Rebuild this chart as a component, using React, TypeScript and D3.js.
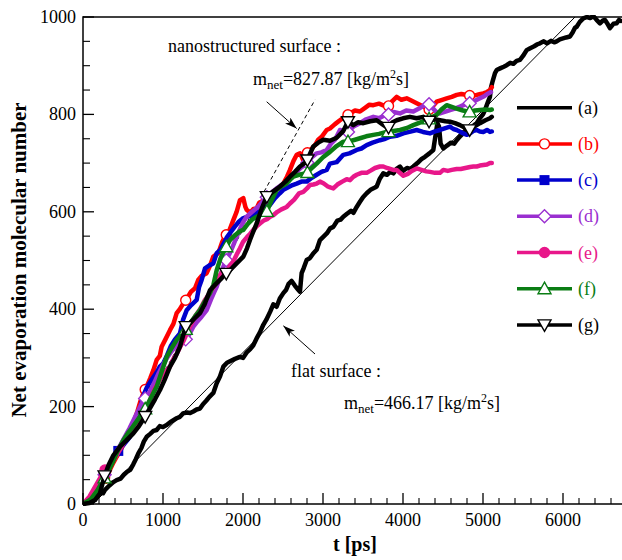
import React from 'react';
import * as d3 from 'd3';

type P = [number, number];

const seriesA: P[] = [[0,0],[60,4],[120,12],[180,18],[212,25],[250,22],[275,29],[330,38],[380,45],[420,49],[470,52],[510,60],[550,66],[590,70],[630,82],[660,92],[692,104],[730,115],[760,128],[796,138],[840,144],[880,150],[920,152],[960,160],[1000,158],[1046,162],[1090,168],[1130,172],[1170,176],[1212,179],[1250,186],[1300,188],[1340,187],[1379,190],[1420,194],[1462,196],[1500,205],[1540,212],[1580,220],[1629,228],[1671,248],[1712,262],[1754,282],[1800,290],[1850,294],[1900,298],[1962,302],[2000,300],[2050,312],[2090,318],[2129,326],[2170,340],[2210,352],[2254,368],[2290,378],[2340,395],[2379,410],[2420,405],[2460,422],[2504,433],[2540,440],[2570,452],[2608,458],[2650,448],[2690,440],[2712,436],[2733,474],[2760,485],[2796,501],[2837,505],[2880,515],[2921,522],[2962,542],[3000,548],[3050,556],[3090,566],[3129,569],[3180,582],[3220,584],[3254,590],[3300,596],[3350,602],[3380,598],[3421,610],[3460,620],[3500,630],[3546,638],[3600,646],[3650,650],[3671,652],[3710,668],[3754,679],[3800,676],[3840,682],[3879,679],[3920,688],[3962,693],[4000,684],[4050,690],[4090,688],[4129,693],[4180,700],[4230,708],[4275,713],[4330,720],[4379,727],[4400,750],[4430,782],[4450,775],[4470,740],[4504,730],[4550,736],[4600,742],[4640,740],[4671,747],[4720,756],[4760,762],[4796,768],[4850,772],[4890,778],[4921,782],[4960,792],[5000,800],[5025,809],[5060,825],[5087,836],[5100,855],[5120,868],[5150,885],[5171,891],[5220,895],[5260,898],[5296,901],[5340,906],[5380,904],[5420,910],[5462,912],[5500,920],[5546,932],[5590,936],[5640,940],[5680,944],[5712,946],[5760,950],[5800,946],[5850,951],[5890,948],[5921,950],[5960,954],[6000,956],[6040,958],[6087,960],[6120,968],[6150,978],[6171,980],[6210,990],[6254,997],[6300,1000],[6340,998],[6379,1002],[6420,994],[6462,987],[6500,993],[6525,994],[6560,985],[6587,977],[6630,986],[6671,987],[6700,994],[6720,992]];

const seriesB: P[] = [[0,0],[80,10],[150,25],[212,49],[260,58],[290,46],[330,68],[380,85],[421,97],[470,110],[520,128],[570,145],[629,166],[680,190],[720,212],[760,230],[796,241],[840,258],[880,275],[921,296],[960,304],[983,323],[1030,338],[1087,357],[1130,370],[1171,392],[1210,400],[1254,412],[1300,422],[1350,436],[1400,443],[1440,460],[1480,468],[1546,474],[1590,490],[1629,508],[1691,515],[1740,538],[1775,549],[1830,562],[1879,583],[1920,600],[1962,624],[2004,628],[2030,610],[2046,604],[2090,598],[2130,606],[2171,607],[2200,618],[2233,621],[2290,628],[2358,634],[2420,645],[2470,650],[2504,658],[2550,672],[2587,686],[2630,704],[2671,717],[2712,720],[2754,706],[2796,720],[2850,728],[2900,737],[2940,748],[2983,754],[3046,768],[3087,771],[3150,780],[3212,788],[3270,795],[3337,802],[3400,808],[3462,806],[3530,814],[3580,820],[3629,819],[3700,822],[3760,818],[3817,817],[3870,828],[3921,836],[3980,830],[4046,833],[4110,828],[4171,823],[4254,816],[4300,812],[4337,809],[4380,818],[4421,826],[4490,830],[4546,833],[4610,836],[4671,840],[4730,842],[4796,840],[4860,838],[4921,840],[4970,842],[5004,843],[5050,846],[5087,850],[5110,856]];

const seriesC: P[] = [[0,0],[100,8],[170,20],[230,42],[280,58],[337,77],[390,98],[441,109],[500,120],[550,130],[587,138],[630,155],[671,172],[720,200],[760,225],[800,240],[858,255],[920,270],[960,282],[1004,289],[1050,305],[1100,325],[1150,338],[1212,350],[1250,378],[1296,398],[1350,408],[1421,419],[1450,445],[1483,460],[1525,484],[1580,490],[1629,494],[1671,515],[1712,521],[1760,535],[1800,548],[1837,556],[1900,570],[1950,580],[2004,587],[2060,590],[2110,592],[2150,593],[2200,600],[2260,608],[2337,614],[2400,628],[2460,638],[2504,645],[2560,650],[2620,655],[2671,658],[2730,662],[2796,662],[2860,670],[2921,676],[2980,682],[3046,686],[3087,699],[3171,702],[3254,717],[3330,720],[3421,727],[3480,730],[3546,737],[3620,742],[3712,747],[3780,750],[3837,754],[3920,756],[4004,761],[4080,764],[4171,768],[4250,764],[4337,761],[4400,765],[4462,768],[4530,772],[4587,775],[4630,770],[4671,768],[4720,764],[4754,761],[4800,758],[4837,761],[4880,766],[4921,768],[4960,765],[5004,764],[5050,768],[5087,764],[5110,765]];

const seriesD: P[] = [[0,0],[90,12],[160,30],[230,50],[290,65],[350,85],[410,105],[470,122],[530,140],[580,155],[640,175],[700,195],[750,212],[795,220],[850,235],[900,252],[950,270],[1000,285],[1050,300],[1100,312],[1150,322],[1200,330],[1250,336],[1300,339],[1340,352],[1379,364],[1430,375],[1480,384],[1546,398],[1600,420],[1640,435],[1671,446],[1720,470],[1760,490],[1805,505],[1850,520],[1900,540],[1950,560],[2000,578],[2046,590],[2100,598],[2150,605],[2200,612],[2250,622],[2310,632],[2360,640],[2420,648],[2480,655],[2540,662],[2600,670],[2660,680],[2720,690],[2796,699],[2860,712],[2921,720],[2980,722],[3046,727],[3100,740],[3150,748],[3212,768],[3260,766],[3312,764],[3380,775],[3462,782],[3540,790],[3629,795],[3700,792],[3760,797],[3812,799],[3880,805],[3962,802],[4040,808],[4129,806],[4200,812],[4260,818],[4312,823],[4360,815],[4410,806],[4462,802],[4520,805],[4587,809],[4650,812],[4712,816],[4770,820],[4837,823],[4900,828],[4962,833],[5020,838],[5066,843],[5100,846]];

const seriesE: P[] = [[0,0],[80,15],[150,35],[220,55],[275,70],[330,78],[390,92],[450,108],[510,125],[570,140],[640,158],[712,172],[770,190],[830,210],[890,235],[950,252],[1010,268],[1087,282],[1130,298],[1171,308],[1212,322],[1260,336],[1296,350],[1350,368],[1400,385],[1462,400],[1520,418],[1580,432],[1629,445],[1680,460],[1720,472],[1760,480],[1796,476],[1840,490],[1879,498],[1920,512],[1962,525],[2000,538],[2050,548],[2090,555],[2129,563],[2170,570],[2212,576],[2260,582],[2300,585],[2340,590],[2379,593],[2430,600],[2480,605],[2546,610],[2587,617],[2640,625],[2700,638],[2754,641],[2800,648],[2837,655],[2880,656],[2921,658],[2962,662],[3010,658],[3060,652],[3090,650],[3129,648],[3180,656],[3240,662],[3296,667],[3337,665],[3380,672],[3421,676],[3480,680],[3546,680],[3600,685],[3650,690],[3712,693],[3754,693],[3800,690],[3879,686],[3921,686],[3960,680],[4004,674],[4060,678],[4110,684],[4171,689],[4230,686],[4290,683],[4337,682],[4400,680],[4462,680],[4504,686],[4560,684],[4610,686],[4671,688],[4720,688],[4780,690],[4837,692],[4880,693],[4921,693],[4960,695],[5004,696],[5050,697],[5087,700],[5110,700]];

const seriesF: P[] = [[0,0],[100,10],[180,28],[250,48],[310,65],[370,85],[430,108],[504,131],[560,145],[620,158],[680,172],[740,186],[783,197],[840,215],[880,228],[921,241],[980,270],[1046,302],[1100,318],[1171,337],[1250,352],[1296,361],[1337,371],[1400,385],[1462,398],[1520,415],[1587,433],[1630,450],[1671,480],[1720,505],[1780,525],[1837,542],[1900,552],[1960,560],[2004,563],[2060,575],[2120,585],[2171,590],[2230,595],[2296,600],[2360,625],[2421,645],[2480,652],[2546,658],[2600,668],[2629,672],[2700,676],[2760,678],[2796,679],[2860,690],[2921,699],[3000,712],[3087,723],[3170,735],[3254,744],[3312,744],[3400,748],[3462,751],[3540,755],[3629,758],[3700,760],[3796,764],[3880,766],[3962,768],[4050,772],[4129,778],[4210,783],[4296,788],[4360,794],[4421,799],[4480,810],[4546,819],[4600,816],[4671,812],[4750,808],[4837,805],[4900,808],[4962,809],[5030,810],[5087,809],[5110,810]];

const seriesG: P[] = [[0,0],[80,2],[150,8],[212,22],[266,56],[320,80],[380,100],[462,118],[540,130],[629,145],[700,160],[775,179],[830,195],[900,215],[962,234],[1020,255],[1087,282],[1150,300],[1212,323],[1283,364],[1340,372],[1400,382],[1462,392],[1520,410],[1587,439],[1650,450],[1712,460],[1780,472],[1837,480],[1920,494],[2004,508],[2050,525],[2087,542],[2130,560],[2171,576],[2230,605],[2296,631],[2380,642],[2462,652],[2530,662],[2587,672],[2650,682],[2712,693],[2796,703],[2840,720],[2879,734],[2940,742],[3004,748],[3087,746],[3171,752],[3250,765],[3312,785],[3379,778],[3440,784],[3504,782],[3590,786],[3671,788],[3740,780],[3812,772],[3870,784],[3921,788],[4000,792],[4087,795],[4170,792],[4254,795],[4312,785],[4390,790],[4462,788],[4530,786],[4587,785],[4650,782],[4712,778],[4780,772],[4837,768],[4900,776],[4962,782],[5030,788],[5087,792],[5110,795]];

const markTimes = [270, 777, 1284, 1791, 2298, 2805, 3312, 3819, 4326, 4833];
const markTimesC = [441, 2150];
const markTimesE = [275];

const xTicks = [0, 1000, 2000, 3000, 4000, 5000, 6000];
const yTicks = [0, 200, 400, 600, 800, 1000];
const legendLabels = ['(a)', '(b)', '(c)', '(d)', '(e)', '(f)', '(g)'];
const colors = ['#000000', '#ff0000', '#0000cc', '#9a2fd0', '#e8178a', '#0a7d14', '#000000'];
const markerTypes = ['none', 'circleOpen', 'squareFilled', 'diamondOpen', 'circleFilled', 'triUpOpen', 'triDownOpen'];

const nanoFit: P[] = [[100, 0], [2900, 830]];
const flatFit: P[] = [[126, 0], [6150, 1000]];
const nanoArrow: P[] = [[2296, 826], [2671, 771]];
const flatArrow: P[] = [[2900, 308], [2504, 366]];

const FONT = '"Liberation Serif", "Times New Roman", Times, serif';

function Marker({ type, cx, cy, color }: { type: string; cx: number; cy: number; color: string }) {
  const sw = 1.4;
  switch (type) {
    case 'circleOpen':
      return <circle cx={cx} cy={cy} r={5} fill="#fff" stroke={color} strokeWidth={sw} />;
    case 'circleFilled':
      return <circle cx={cx} cy={cy} r={5} fill={color} stroke={color} strokeWidth={sw} />;
    case 'squareFilled':
      return <rect x={cx - 5} y={cy - 5} width={10} height={10} fill={color} />;
    case 'diamondOpen':
      return <polygon points={`${cx},${cy - 6.5} ${cx + 6.5},${cy} ${cx},${cy + 6.5} ${cx - 6.5},${cy}`} fill="#fff" stroke={color} strokeWidth={sw} />;
    case 'triUpOpen':
      return <polygon points={`${cx},${cy - 6.5} ${cx + 6.5},${cy + 5} ${cx - 6.5},${cy + 5}`} fill="#fff" stroke={color} strokeWidth={sw} />;
    case 'triDownOpen':
      return <polygon points={`${cx},${cy + 6.5} ${cx + 6.5},${cy - 5} ${cx - 6.5},${cy - 5}`} fill="#fff" stroke={color} strokeWidth={sw} />;
    default:
      return null;
  }
}

function interp(s: P[], t: number): number {
  const i = d3.bisector((d: P) => d[0]).left(s, t);
  if (i <= 0) return s[0][1];
  if (i >= s.length) return s[s.length - 1][1];
  const a = s[i - 1], b = s[i];
  return a[1] + ((t - a[0]) / (b[0] - a[0])) * (b[1] - a[1]);
}

export default function App() {
  const W = 622, H = 560;
  const x = d3.scaleLinear().domain([0, 6725]).range([83, 621]);
  const y = d3.scaleLinear().domain([0, 1000]).range([504, 17]);
  const line = d3.line<P>().x(d => x(d[0])).y(d => y(d[1]));
  const all = [seriesA, seriesB, seriesC, seriesD, seriesE, seriesF, seriesG];
  const marks = [[], markTimes, markTimesC, markTimes, markTimesE, markTimes, markTimes];

  const xMinor = d3.range(0, 6725, 200).filter(v => v % 1000 !== 0);
  const yMinor = d3.range(0, 1000, 50).filter(v => v % 200 !== 0);

  const legX1 = 517, legX2 = 572, legY0 = 107.7, legDy = 36.2;

  return (
    <div style={{ position: 'absolute', left: 0, top: 0 }}>
      <svg width={W} height={H} style={{ display: 'block', background: '#fff' }} fontFamily={FONT}>
        <defs>
          <clipPath id="plot">
            <rect x={83} y={15} width={540} height={491} />
          </clipPath>
          <marker id="arr" viewBox="0 0 12 8" refX={12} refY={4} markerWidth={12} markerHeight={8} markerUnits="userSpaceOnUse" orient="auto">
            <path d="M0,0 L12,4 L0,8 L3,4 Z" fill="#000" />
          </marker>
        </defs>

        <path d={line(flatFit) || ''} stroke="#000" strokeWidth={1} fill="none" />
        <path d={line(nanoFit) || ''} stroke="#000" strokeWidth={1} fill="none" strokeDasharray="4,3" />

        <g clipPath="url(#plot)">
          {all.map((s, i) => (
            <g key={i}>
              <path d={line(s) || ''} stroke={colors[i]} strokeWidth={4.5} fill="none" strokeLinejoin="round" strokeLinecap="round" />
              {marks[i].map((t: number, k: number) => (
                <Marker key={k} type={markerTypes[i]} cx={x(t)} cy={y(interp(s, t))} color={colors[i]} />
              ))}
            </g>
          ))}
        </g>

        <line x1={x(nanoArrow[0][0])} y1={y(nanoArrow[0][1])} x2={x(nanoArrow[1][0])} y2={y(nanoArrow[1][1])} stroke="#000" strokeWidth={1} markerEnd="url(#arr)" />
        <line x1={x(flatArrow[0][0])} y1={y(flatArrow[0][1])} x2={x(flatArrow[1][0])} y2={y(flatArrow[1][1])} stroke="#000" strokeWidth={1} markerEnd="url(#arr)" />

        <line x1={83} y1={17} x2={622} y2={17} stroke="#000" strokeWidth={1.5} />
        <line x1={83} y1={16.25} x2={83} y2={504.75} stroke="#000" strokeWidth={1.5} />
        <line x1={82.25} y1={504} x2={622} y2={504} stroke="#000" strokeWidth={1.5} />

        {xTicks.map(v => (
          <g key={'xt' + v}>
            <line x1={x(v)} x2={x(v)} y1={504} y2={493} stroke="#000" strokeWidth={1.3} />
            <text x={x(v)} y={526} fontSize={18} textAnchor="middle">{v}</text>
          </g>
        ))}
        {xMinor.map(v => (
          <line key={'xm' + v} x1={x(v)} x2={x(v)} y1={504} y2={498} stroke="#000" strokeWidth={1.1} />
        ))}
        {yTicks.map(v => (
          <g key={'yt' + v}>
            <line x1={83} x2={94} y1={y(v)} y2={y(v)} stroke="#000" strokeWidth={1.3} />
            <text x={76} y={y(v) + 6} fontSize={18} textAnchor="end">{v}</text>
          </g>
        ))}
        {yMinor.map(v => (
          <line key={'ym' + v} x1={83} x2={90} y1={y(v)} y2={y(v)} stroke="#000" strokeWidth={1.1} />
        ))}

        <text transform="translate(26,260) rotate(-90)" fontSize={21} fontWeight="bold" textAnchor="middle">Net evaporation molecular number</text>
        <text x={355} y={551} fontSize={20} fontWeight="bold" textAnchor="middle">t [ps]</text>

        <text x={168} y={52} fontSize={18}>nanostructured surface :</text>
        <text x={253} y={85} fontSize={18}>
          <tspan>m</tspan>
          <tspan dy={4} fontSize={13}>net</tspan>
          <tspan dy={-4}>=827.87 [kg/m</tspan>
          <tspan dy={-7} fontSize={12}>2</tspan>
          <tspan dy={7}>s]</tspan>
        </text>
        <text x={291} y={377} fontSize={18}>flat surface :</text>
        <text x={344} y={409} fontSize={18}>
          <tspan>m</tspan>
          <tspan dy={4} fontSize={13}>net</tspan>
          <tspan dy={-4}>=466.17 [kg/m</tspan>
          <tspan dy={-7} fontSize={12}>2</tspan>
          <tspan dy={7}>s]</tspan>
        </text>

        {legendLabels.map((lab, i) => {
          const ly = legY0 + i * legDy;
          return (
            <g key={'lg' + i}>
              <line x1={legX1} x2={legX2} y1={ly} y2={ly} stroke={colors[i]} strokeWidth={3.5} />
              <Marker type={markerTypes[i]} cx={(legX1 + legX2) / 2} cy={ly} color={colors[i]} />
              <text x={578} y={ly + 6} fontSize={18} fill={colors[i]}>{lab}</text>
            </g>
          );
        })}
      </svg>
    </div>
  );
}
